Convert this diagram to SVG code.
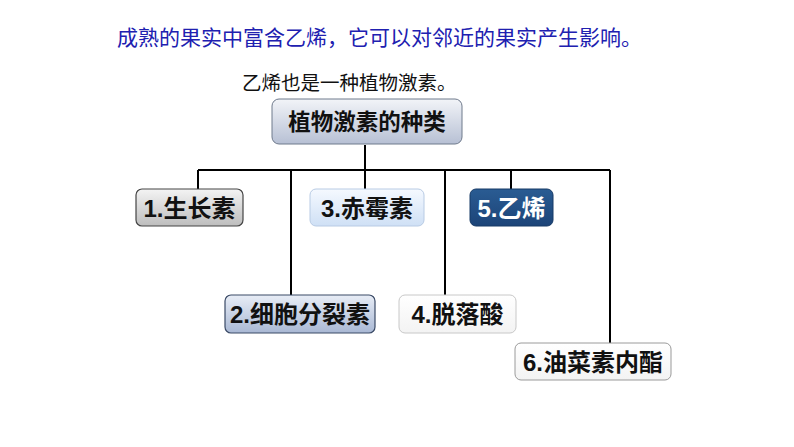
<svg xmlns="http://www.w3.org/2000/svg" width="794" height="447" viewBox="0 0 794 447">
<style>
.t{font-family:"Liberation Sans","Noto Sans CJK SC",sans-serif;}
.lbl{font-family:"Liberation Sans","Noto Sans CJK SC",sans-serif;font-weight:bold;font-size:24px;text-anchor:middle;dominant-baseline:central;fill:#111;}
.ln{stroke:#000;stroke-width:2;fill:none;}
</style>
<defs>
<linearGradient id="gRoot" x1="0" y1="0" x2="0" y2="1"><stop offset="0" stop-color="#f2f4f8"/><stop offset="1" stop-color="#b7c0d4"/></linearGradient>
<linearGradient id="gGray" x1="0" y1="0" x2="0" y2="1"><stop offset="0" stop-color="#f4f4f4"/><stop offset="1" stop-color="#bdbdbd"/></linearGradient>
<linearGradient id="gLBlue" x1="0" y1="0" x2="0" y2="1"><stop offset="0" stop-color="#f5f9ff"/><stop offset="1" stop-color="#cfe0f5"/></linearGradient>
<linearGradient id="gBG" x1="0" y1="0" x2="0" y2="1"><stop offset="0" stop-color="#e8edf6"/><stop offset="1" stop-color="#a9b8d4"/></linearGradient>
<linearGradient id="gDark" x1="0" y1="0" x2="0" y2="1"><stop offset="0" stop-color="#2a5c93"/><stop offset="1" stop-color="#1c4478"/></linearGradient>
<linearGradient id="gWhite" x1="0" y1="0" x2="0" y2="1"><stop offset="0" stop-color="#ffffff"/><stop offset="1" stop-color="#f3f3f3"/></linearGradient>
</defs>
<rect width="794" height="447" fill="#fff"/>
<text class="t" x="117" y="45" font-size="21" fill="#2020b0">成熟的果实中富含乙烯，它可以对邻近的果实产生影响。</text>
<text class="t" x="242" y="90" font-size="19.5" fill="#111">乙烯也是一种植物激素。</text>
<g id="connectors">
<path class="ln" d="M365 145 V170 M198 170 H610 M198 170 V189 M291 170 V295 M365 170 V189 M445 170 V295 M511 170 V189 M610 170 V343"/>
</g>
<g id="root"><rect x="272" y="99" width="190" height="45" rx="7" fill="url(#gRoot)" stroke="#6f7a8c" stroke-width="1"/><text class="lbl" x="367" y="122" style="font-size:22.5px">植物激素的种类</text></g>
<g id="n1"><rect x="136" y="189" width="107" height="37" rx="6" fill="url(#gGray)" stroke="#444" stroke-width="1.2"/><text class="lbl" x="189.5" y="208">1.生长素</text></g>
<g id="n3"><rect x="310" y="189" width="114" height="37" rx="6" fill="url(#gLBlue)" stroke="#b8cbe4" stroke-width="1"/><text class="lbl" x="367" y="208">3.赤霉素</text></g>
<g id="n5"><rect x="470" y="189" width="83" height="37" rx="6" fill="url(#gDark)" stroke="#173a66" stroke-width="1"/><text class="lbl" x="511.5" y="208" style="fill:#fff">5.乙烯</text></g>
<g id="n2"><rect x="225" y="295" width="150" height="38" rx="6" fill="url(#gBG)" stroke="#3a4a66" stroke-width="1.2"/><text class="lbl" x="300" y="314">2.细胞分裂素</text></g>
<g id="n4"><rect x="399" y="295" width="117" height="38" rx="6" fill="url(#gWhite)" stroke="#c8c8c8" stroke-width="1"/><text class="lbl" x="457.5" y="314">4.脱落酸</text></g>
<g id="n6"><rect x="515" y="343" width="156" height="37" rx="6" fill="url(#gWhite)" stroke="#9a9a9a" stroke-width="1"/><text class="lbl" x="593" y="362">6.油菜素内酯</text></g>
</svg>
